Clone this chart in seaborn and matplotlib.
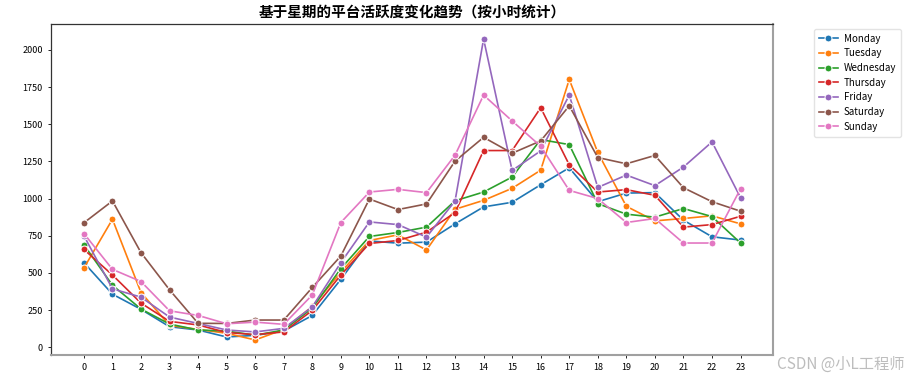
import pandas as pd
import matplotlib
matplotlib.use("Agg")
import matplotlib.pyplot as plt
import seaborn as sns

# ── 数据：每个星期几在 0-23 点的活跃次数─────────────────────────────
hours = list(range(24))
weekdays = ["Monday", "Tuesday", "Wednesday", "Thursday", "Friday", "Saturday", "Sunday"]

monday = [569, 357, 255, 138, 116, 69, 80, 109, 214, 457, 715, 700, 707, 830,
          944, 975, 1093, 1207, 979, 1037, 1040, 855, 743, 721]
tuesday = [533, 861, 368, 147, 120, 94, 49, 120, 275, 505, 718, 756, 654, 928,
           988, 1069, 1191, 1801, 1310, 948, 850, 866, 884, 830]
wednesday = [689, 417, 257, 156, 116, 109, 81, 116, 263, 529, 745, 772, 808, 985,
             1044, 1145, 1397, 1363, 966, 895, 875, 933, 879, 701]
thursday = [658, 486, 297, 174, 150, 99, 85, 103, 248, 486, 698, 718, 774, 906,
            1323, 1323, 1611, 1227, 1044, 1060, 1022, 808, 825, 881]
friday = [750, 393, 337, 203, 160, 116, 103, 127, 272, 569, 843, 825, 741, 984,
          2073, 1189, 1321, 1696, 1075, 1158, 1087, 1212, 1381, 1006]
saturday = [837, 984, 636, 386, 161, 160, 183, 183, 402, 614, 997, 926, 964, 1252,
            1412, 1305, 1388, 1624, 1276, 1234, 1290, 1073, 979, 915]
sunday = [765, 524, 442, 245, 214, 158, 169, 154, 352, 839, 1044, 1062, 1040, 1292,
          1696, 1522, 1352, 1055, 1000, 839, 866, 701, 701, 1066]

series = [monday, tuesday, wednesday, thursday, friday, saturday, sunday]

# 转成长表给 seaborn 用
rows = []
for day, values in zip(weekdays, series):
    for h, v in zip(hours, values):
        rows.append({"hour": h, "count": v, "weekday": day})
df = pd.DataFrame(rows)

# ── 字体 ─────────────────────────────────────────────────────────────────
plt.rcParams["font.family"] = ["Noto Sans CJK SC", "DejaVu Sans"]
plt.rcParams["axes.unicode_minus"] = False

# ── 绘图 ─────────────────────────────────────────────────────────────────
fig = plt.figure(figsize=(9.12, 3.84), dpi=100)
ax = fig.add_axes([0.056, 0.0755, 0.792, 0.862])

sns.lineplot(
    data=df, x="hour", y="count", hue="weekday", hue_order=weekdays,
    marker="o", markersize=5, linewidth=1.2, palette="tab10", ax=ax,
)

ax.set_title("基于星期的平台活跃度变化趋势（按小时统计）", fontsize=10.5,
             fontweight="semibold", pad=5)
ax.set_xlabel("")
ax.set_ylabel("")
ax.set_xticks(hours)
ax.tick_params(axis="both", labelsize=6.5, length=2.5, width=0.6)

# 截图里下边和右边框偏灰
for side in ["bottom", "right"]:
    ax.spines[side].set_color("#a0a0a0")
    ax.spines[side].set_linewidth(1.5)
for side in ["top", "left"]:
    ax.spines[side].set_color("#333333")
    ax.spines[side].set_linewidth(0.9)

handles, labels = ax.get_legend_handles_labels()
ax.legend(handles, labels, loc="upper left", bbox_to_anchor=(1.05, 1.0),
          fontsize=7, frameon=True, labelspacing=0.48, handlelength=1.9,
          handletextpad=0.6, borderpad=0.5, edgecolor="#dddddd")

fig.text(0.992, 0.03, "CSDN @小L工程师", ha="right", va="bottom",
         fontsize=11, color="#bdbdbd")

plt.savefig("out.png", dpi=100)
plt.close()
